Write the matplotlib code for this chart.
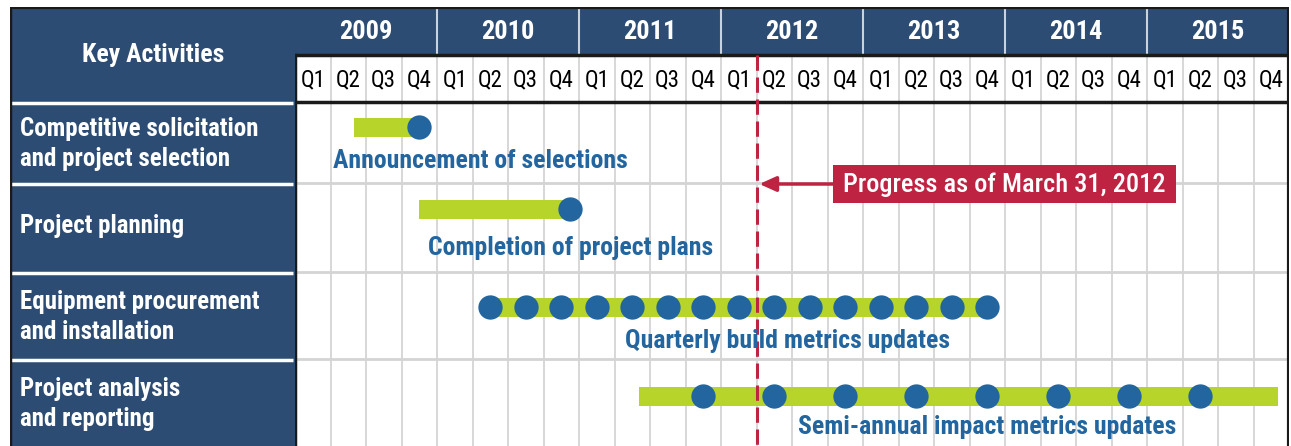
import matplotlib
matplotlib.use("Agg")
import matplotlib.pyplot as plt
from matplotlib.patches import Rectangle
from matplotlib import font_manager

# ---------------- data ----------------
years = ["2009", "2010", "2011", "2012", "2013", "2014", "2015"]
quarter_labels = ["Q1", "Q2", "Q3", "Q4"] * 7
activities = ["Competitive solicitation\nand project selection",
              "Project planning",
              "Equipment procurement\nand installation",
              "Project analysis\nand reporting"]
# bar start / end in quarters since Q1 2009
bar_start = [1.65, 3.5, 5.5, 9.68]
bar_end = [3.5, 7.75, 19.5, 27.7]
milestones = [
    [3.5],
    [7.75],
    [5.5, 6.5, 7.5, 8.5, 9.5, 10.5, 11.5, 12.5, 13.5, 14.5, 15.5, 16.5, 17.5, 18.5, 19.5],
    [11.5, 13.5, 15.5, 17.5, 19.5, 21.5, 23.5, 25.5],
]
milestone_labels = ["Announcement of selections",
                    "Completion of project plans",
                    "Quarterly build metrics updates",
                    "Semi-annual impact metrics updates"]
progress_date = 13.0  # end of Q1 2012
progress_label = "Progress as of March 31, 2012"

# ---------------- style ----------------
NAVY = "#2c4c73"
BLUE = "#22659f"
GREEN = "#b7d42a"
RED = "#be2342"
GRID = "#d4d4d4"

avail = {f.name for f in font_manager.fontManager.ttflist}
FONT = "DejaVu Sans"
for cand in ["Liberation Sans Narrow", "DejaVu Sans Condensed", "Roboto Condensed", "Liberation Sans"]:
    if cand in avail:
        FONT = cand
        break
plt.rcParams["font.family"] = [FONT, "DejaVu Sans"]

W, H = 1291, 446
fig = plt.figure(figsize=(W / 100, H / 100), dpi=100)
fig.patch.set_facecolor("white")


def box(x0, y0, x1, y1):
    return [x0 / W, 1 - y1 / H, (x1 - x0) / W, (y1 - y0) / H]


# layout (pixel rows)
HEAD_TOP, YEAR_BOT, Q_BOT = 7, 55, 102
row_bounds = [102, 183, 272, 359, 446]
bar_y = [127, 209, 307, 396]
label_y = [161, 248, 341, 427]
label_x = [5.21, 7.77, 13.87, 19.5]
act_y = [144, 226, 317, 404]

# ---------------- left panel ----------------
axl = fig.add_axes(box(10, HEAD_TOP, 295, H))
axl.set_xlim(10, 295)
axl.set_ylim(H, HEAD_TOP)
axl.axis("off")
axl.add_patch(Rectangle((10, HEAD_TOP), 285, H - HEAD_TOP, facecolor=NAVY, edgecolor="none"))
axl.text(153, 55, "Key Activities", color="white", fontsize=18.5, fontweight="bold",
         ha="center", va="center")
for yb in row_bounds[:-1]:
    axl.plot([10, 293], [yb + 1, yb + 1], color="white", lw=2.5, solid_capstyle="butt")
for i, act in enumerate(activities):
    axl.text(20, act_y[i], act, color="white", fontsize=18, fontweight="bold",
             ha="left", va="center", linespacing=1.32)
# outer border of left panel
axl.plot([10, 10], [HEAD_TOP, H], color="#1a1a1a", lw=2.5)
axl.plot([10, 295], [HEAD_TOP, HEAD_TOP], color="#1a1a1a", lw=3)

# ---------------- gantt area ----------------
ax = fig.add_axes(box(295, HEAD_TOP, 1289, H))
ax.set_xlim(0, 28)
ax.set_ylim(H, HEAD_TOP)
ax.axis("off")

# year header
ax.add_patch(Rectangle((0, HEAD_TOP), 28, YEAR_BOT - HEAD_TOP, facecolor=NAVY, edgecolor="none", zorder=1))
for i, yr in enumerate(years):
    ax.text(4 * i + 2, (HEAD_TOP + YEAR_BOT) / 2 + 1, yr, color="white", fontsize=19,
            fontweight="bold", ha="center", va="center", zorder=3)
    if i > 0:
        ax.plot([4 * i, 4 * i], [HEAD_TOP, YEAR_BOT], color="#c9d3df", lw=1.5, zorder=2)

# quarter grid
for q in range(1, 28):
    ax.plot([q, q], [YEAR_BOT, H], color=GRID, lw=1.3, zorder=1)
for yb in row_bounds[1:-1]:
    ax.plot([0, 28], [yb, yb], color=GRID, lw=2, zorder=1)
for q, ql in enumerate(quarter_labels):
    ax.text(q + 0.5, (YEAR_BOT + Q_BOT) / 2 + 1, ql, color="black", fontsize=16.5,
            ha="center", va="center", zorder=3)

# black structural lines
ax.plot([0, 28], [YEAR_BOT, YEAR_BOT], color="#1a1a1a", lw=2.5, zorder=4)
ax.plot([0, 28], [Q_BOT, Q_BOT], color="#1a1a1a", lw=2.5, zorder=4)
ax.plot([0, 0], [YEAR_BOT, H], color="#1a1a1a", lw=2.5, zorder=4)
ax.plot([28, 28], [HEAD_TOP, H], color="#1a1a1a", lw=3, zorder=4)
ax.plot([0, 28], [HEAD_TOP, HEAD_TOP], color="#1a1a1a", lw=3, zorder=4)

# bars
for i in range(4):
    ax.barh(bar_y[i], bar_end[i] - bar_start[i], left=bar_start[i], height=19,
            color=GREEN, edgecolor="none", zorder=5)

# progress line
ax.plot([progress_date, progress_date], [YEAR_BOT, H], color=RED, lw=2.2,
        linestyle=(0, (5, 2.2)), zorder=6)

# milestones
for i in range(4):
    ax.plot(milestones[i], [bar_y[i]] * len(milestones[i]), linestyle="none",
            marker="o", markersize=17.5, markerfacecolor=BLUE, markeredgecolor="none", zorder=7)
    ax.text(label_x[i], label_y[i], milestone_labels[i], color=BLUE, fontsize=18.5,
            fontweight="bold", ha="center", va="center", zorder=8)

# progress annotation
bx0, bx1, by0, by1 = 15.15, 24.82, 165, 203
ax.add_patch(Rectangle((bx0, by0), bx1 - bx0, by1 - by0, facecolor=RED, edgecolor="none", zorder=8))
ax.text((bx0 + bx1) / 2, (by0 + by1) / 2 + 1, progress_label, color="white", fontsize=19,
        fontweight="medium", ha="center", va="center", zorder=9)
ax.annotate("", xy=(progress_date + 0.08, 184), xytext=(bx0, 184),
            arrowprops=dict(arrowstyle="-|>,head_length=1.0,head_width=0.45", color=RED,
                            lw=2.5, shrinkA=0, shrinkB=0), zorder=8)

fig.savefig("out.png", dpi=100, facecolor="white")
